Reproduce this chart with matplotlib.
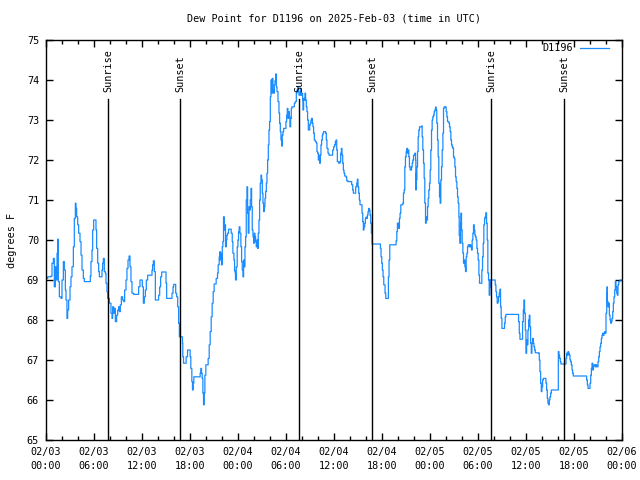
import pandas as pd
import matplotlib
matplotlib.use("Agg")
import matplotlib.pyplot as plt
import matplotlib.dates as mdates
from matplotlib.ticker import MultipleLocator

# dew point readings, hours after 00:00 UTC of each day
feb03_hours = [0.0, 0.21, 0.62, 0.75, 0.92, 1.04, 1.17, 1.25, 1.38, 1.46,
               1.54, 1.67, 1.88, 2.0, 2.17, 2.29, 2.42, 2.5, 2.62, 2.71,
               2.83, 3.0, 3.12, 3.25, 3.42, 3.54, 3.67, 3.75, 3.83, 3.96,
               4.08, 4.25, 4.38, 4.5, 4.67, 4.79, 5.42, 5.54, 5.62, 5.75,
               5.83, 5.96, 6.17, 6.25, 6.33, 6.46, 6.58, 6.67, 6.88, 7.0,
               7.08, 7.17, 7.29, 7.42, 7.5, 7.62, 7.71, 7.92, 8.12, 8.25,
               8.33, 8.46, 8.54, 8.67, 8.83, 8.96, 9.08, 9.17, 9.29, 9.42,
               9.58, 9.71, 9.83, 10.0, 10.12, 10.25, 10.38, 10.5, 10.62, 10.75,
               10.96, 11.46, 11.58, 11.75, 11.92, 12.04, 12.17, 12.29, 12.42, 12.54,
               12.71, 13.17, 13.25, 13.33, 13.42, 13.54, 13.67, 13.96, 14.08, 14.21,
               14.33, 14.46, 14.92, 15.0, 15.08, 15.67, 15.75, 15.88, 15.96, 16.12,
               16.21, 16.33, 16.46, 16.58, 16.67,
               17.06, 17.1, 17.19, 17.44, 17.52, 17.69, 17.94, 18.02, 18.1, 18.23,
               18.31, 18.4, 18.48, 19.19, 19.27, 19.36, 19.44, 19.52, 19.61, 19.69,
               19.77, 19.86, 19.98, 20.19, 20.27, 20.4, 20.52, 20.65, 20.77, 20.9,
               21.02, 21.19, 21.27, 21.44, 21.52, 21.65,
               21.74, 21.78, 21.86, 21.94, 22.03, 22.11, 22.19, 22.28, 22.36, 22.44,
               22.53, 22.61, 22.69, 22.82, 23.03, 23.15, 23.28, 23.36, 23.49, 23.57,
               23.65, 23.69, 23.78, 23.9, 23.99]
feb03_dew = [69.04, 69.08, 69.1, 69.42, 69.54, 68.83, 69.33, 69.0, 69.67, 70.02,
             68.96, 68.58, 68.54, 69.0, 69.46, 69.25, 68.75, 68.5, 68.04, 68.25,
             68.5, 68.83, 69.08, 69.33, 69.83, 70.54, 70.92, 70.79, 70.58, 70.38,
             70.17, 69.96, 69.62, 69.25, 69.04, 68.96, 68.96, 69.1, 69.46, 69.75,
             70.25, 70.5, 70.5, 70.25, 69.79, 69.42, 69.21, 69.08, 69.08, 69.25,
             69.42, 69.54, 69.21, 69.17, 68.92, 68.71, 68.54, 68.42, 68.17, 68.04,
             68.33, 68.17, 68.29, 67.96, 68.12, 68.25, 68.33, 68.21, 68.38, 68.58,
             68.5, 68.46, 68.75, 69.0, 69.29, 69.5, 69.6, 69.33, 68.96, 68.67,
             68.64, 68.64, 68.83, 69.0, 69.0, 68.83, 68.42, 68.58, 68.75, 69.0,
             69.12, 69.12, 69.25, 69.38, 69.48, 69.21, 68.5, 68.5, 68.62, 68.83,
             69.08, 69.2, 69.2, 68.92, 68.54, 68.54, 68.67, 68.83, 68.89, 68.89,
             68.67, 68.58, 68.33, 67.92, 67.58,
             67.42, 67.08, 66.92, 66.92, 67.08, 67.25, 67.25, 67.08, 66.79, 66.46,
             66.25, 66.42, 66.58, 66.58, 66.67, 66.79, 66.67, 66.54, 66.17, 65.88,
             66.17, 66.62, 66.88, 66.88, 67.04, 67.38, 67.71, 68.08, 68.42, 68.71,
             68.9, 68.9, 69.04, 69.17, 69.38, 69.58,
             69.71, 69.5, 69.67, 69.38, 69.83, 69.96, 70.58, 70.25, 70.38, 69.83,
             70.0, 70.12, 70.17, 70.27, 70.27, 70.17, 69.96, 69.67, 69.5, 69.23,
             69.17, 69.0, 69.33, 69.83, 70.0]

feb04_hours = [0.07, 0.15, 0.24, 0.36, 0.45, 0.53, 0.62, 0.7, 0.78, 0.87,
               0.95, 1.03, 1.12, 1.2, 1.28, 1.37, 1.45, 1.53, 1.62, 1.7,
               1.78, 1.87, 1.95, 2.04, 2.12, 2.2, 2.28, 2.37, 2.45, 2.53,
               2.62, 2.7, 2.78, 2.87, 2.95, 3.04, 3.12, 3.2, 3.28, 3.37,
               3.45, 3.54, 3.62, 3.7, 3.79, 3.87, 3.95, 4.04, 4.12, 4.2,
               4.28, 4.37, 4.45, 4.54, 4.62, 4.7, 4.79, 4.87, 5.0, 5.12,
               5.2, 5.29, 5.37, 5.45, 5.53, 5.62, 5.7, 5.87, 5.99, 6.08,
               6.16, 6.24, 6.33, 6.41, 6.49, 6.58, 6.66, 6.74, 6.95, 7.04,
               7.16, 7.29, 7.37, 7.45, 7.54, 7.62, 7.79, 7.91, 7.99, 8.08,
               8.12, 8.2, 8.29, 8.37, 8.45, 8.54, 8.62, 8.7, 8.79, 8.87,
               8.96, 9.04, 9.12, 9.2, 9.29, 9.37, 9.45, 9.54, 9.66, 9.79,
               9.87, 9.95, 10.04, 10.12, 10.2, 10.29, 10.37, 10.45, 10.54, 10.62,
               10.7, 10.87, 10.95, 11.04, 11.12, 11.25, 11.37, 11.7, 11.83, 11.95,
               12.08, 12.17, 12.25, 12.34, 12.42, 12.59, 12.75, 12.84, 12.92, 13.0,
               13.09, 13.17, 13.25, 13.34, 13.5, 13.59, 13.75, 14.09, 14.21, 14.34,
               14.42, 14.59, 14.71, 14.84, 14.92, 15.0, 15.09, 15.17, 15.25, 15.42,
               15.5, 15.59, 15.67, 15.75, 15.84, 15.92, 16.0, 16.09, 16.17, 16.25,
               16.34, 16.42, 16.5, 16.59, 16.67, 16.76, 17.72, 17.8, 17.88, 17.97,
               18.05, 18.13, 18.22, 18.3, 18.38, 18.47, 18.72, 18.8, 18.88, 18.97,
               19.05, 19.68, 19.76, 19.85, 19.93, 20.01, 20.1, 20.18, 20.26, 20.35,
               20.51, 20.6, 20.68, 20.77, 20.85, 20.93, 21.02, 21.1, 21.18, 21.27,
               21.35, 21.43, 21.52, 21.6, 21.69, 21.77, 21.85, 21.94, 22.02, 22.1,
               22.19, 22.23, 22.27, 22.31, 22.35, 22.44, 22.52, 22.6, 22.69, 22.85,
               22.94, 23.02, 23.1, 23.19, 23.27, 23.35, 23.44, 23.52, 23.6, 23.69,
               23.77, 23.85, 23.94]
feb04_dew = [70.21, 70.33, 70.17, 69.83, 69.46, 69.25, 69.08, 69.5, 69.33, 69.83,
             70.08, 71.0, 71.33, 70.67, 70.17, 70.83, 70.75, 71.0, 71.29, 70.83,
             70.25, 70.08, 69.92, 70.17, 70.08, 69.96, 69.83, 70.0, 69.79, 70.17,
             70.5, 71.0, 71.42, 71.62, 71.5, 71.17, 70.92, 70.71, 70.83, 71.04,
             71.21, 71.42, 71.67, 72.0, 72.38, 72.75, 72.96, 73.58, 74.0, 73.67,
             74.04, 73.75, 73.67, 73.88, 73.98, 74.15, 73.83, 73.71, 73.46, 73.17,
             72.92, 72.71, 72.5, 72.35, 72.62, 72.71, 72.79, 72.79, 72.96, 73.12,
             73.29, 73.04, 73.21, 73.08, 72.83, 73.04, 73.29, 73.33, 73.33, 73.42,
             73.46, 73.67, 73.75, 73.83, 73.71, 73.62, 73.79, 73.62, 73.67, 73.5,
             73.25, 73.54, 73.5, 73.67, 73.5, 73.33, 73.21, 73.0, 72.75, 72.75,
             72.88, 72.92, 73.0, 73.04, 72.92, 72.83, 72.67, 72.5, 72.46, 72.42,
             72.21, 72.17, 72.0, 72.12, 71.92, 72.12, 72.38, 72.5, 72.62, 72.67,
             72.71, 72.71, 72.67, 72.5, 72.29, 72.17, 72.12, 72.12, 72.25, 72.33,
             72.38, 72.46, 72.5, 72.25, 71.96, 71.92, 71.96, 72.17, 72.29, 72.12,
             71.92, 71.75, 71.67, 71.6, 71.57, 71.48, 71.46, 71.46, 71.38, 71.25,
             71.17, 71.17, 71.33, 71.42, 71.52, 71.33, 71.17, 71.0, 70.88, 70.88,
             70.67, 70.46, 70.25, 70.33, 70.42, 70.54, 70.57, 70.54, 70.62, 70.71,
             70.79, 70.75, 70.62, 70.42, 70.17, 69.9, 69.9, 69.79, 69.58, 69.42,
             69.25, 69.08, 68.88, 68.88, 68.67, 68.54, 68.54, 69.08, 69.5, 69.88,
             69.88, 69.88, 69.98, 70.21, 70.42, 70.42, 70.29, 70.54, 70.67, 70.88,
             70.88, 70.92, 71.17, 71.25, 71.83, 72.08, 72.21, 72.29, 72.17, 72.25,
             72.08, 71.83, 71.75, 71.75, 71.83, 71.92, 72.0, 72.12, 72.12, 72.17,
             72.0, 71.25, 71.67, 71.5, 71.83, 72.21, 72.58, 72.75, 72.83, 72.83,
             72.85, 72.58, 72.25, 71.92, 71.54, 70.92, 70.42, 70.58, 70.5, 70.83,
             71.04, 71.25, 71.42]

feb05_hours = [0.02, 0.1, 0.19, 0.27, 0.35, 0.44, 0.52, 0.6, 0.69, 0.77,
               0.85, 0.94, 1.02, 1.1, 1.19, 1.23, 1.27, 1.35, 1.44, 1.52,
               1.61, 1.69, 1.77, 1.94, 2.02, 2.11, 2.19, 2.36, 2.44, 2.52,
               2.61, 2.69, 2.77, 2.86, 2.94, 3.02, 3.11, 3.19, 3.27, 3.36,
               3.44, 3.52, 3.61, 3.65, 3.73, 3.82, 3.86, 3.94, 4.02, 4.11,
               4.19, 4.27, 4.36, 4.44, 4.52, 4.61, 4.69, 4.77, 4.94, 5.02,
               5.11, 5.19, 5.27, 5.36, 5.44, 5.52, 5.61, 5.69, 5.77, 5.86,
               5.94, 6.02, 6.11, 6.19, 6.4, 6.48, 6.57, 6.65, 6.73, 6.82,
               6.9, 6.98, 7.07, 7.15, 7.23, 7.32, 7.4, 7.49, 7.57, 7.65,
               8.07, 8.15, 8.24, 8.32, 8.4, 8.49, 8.57, 8.65, 8.74, 8.82,
               8.9, 8.99, 9.24, 9.32, 9.4, 9.49, 10.99, 11.07, 11.16, 11.24,
               11.49, 11.57, 11.66, 11.74, 11.82, 11.91, 11.99, 12.08, 12.16, 12.24,
               12.33, 12.41, 12.49, 12.58, 12.66, 12.74, 12.83, 12.91, 12.99, 13.08,
               13.16, 13.58, 13.66, 13.74, 13.83, 13.91, 13.99, 14.08, 14.16, 14.41,
               14.49, 14.58, 14.66, 14.74, 14.83, 14.91, 14.99, 15.08, 15.16, 15.99,
               16.04, 16.12, 16.2, 16.29, 16.37, 16.91, 17.0, 17.08, 17.16, 17.25,
               17.33, 17.41, 17.5, 17.58, 17.66, 17.75, 17.83, 17.91, 19.5, 19.58,
               19.67, 19.75, 19.92, 20.0, 20.09, 20.17, 20.25, 20.34, 20.42, 20.5,
               20.59, 20.67, 20.75, 20.84, 21.0, 21.09, 21.17, 21.25, 21.34, 21.42,
               21.5, 21.59, 21.67, 21.75, 21.84, 21.92, 22.0, 22.09, 22.13, 22.17,
               22.25, 22.34, 22.42, 22.5, 22.59, 22.67, 22.75, 22.84, 22.92, 23.0,
               23.09, 23.17, 23.25, 23.34, 23.42, 23.5, 23.59, 23.67, 23.75, 24.0]
feb05_dew = [71.75, 72.25, 72.75, 73.0, 73.08, 73.12, 73.21, 73.25, 73.32, 73.25,
             72.92, 72.5, 72.08, 71.42, 71.08, 71.38, 70.92, 71.5, 71.83, 72.25,
             72.67, 73.29, 73.33, 73.32, 73.21, 73.08, 72.96, 72.92, 72.83, 72.71,
             72.5, 72.38, 72.33, 72.29, 72.08, 72.04, 71.83, 71.58, 71.46, 71.29,
             71.08, 70.92, 70.58, 70.12, 69.92, 70.42, 70.67, 70.25, 69.92, 69.67,
             69.42, 69.5, 69.33, 69.21, 69.58, 69.67, 69.83, 69.88, 69.83, 69.88,
             69.83, 69.75, 70.0, 70.17, 70.38, 70.25, 70.12, 70.08, 70.0, 69.79,
             69.67, 69.5, 69.12, 68.92, 68.92, 69.25, 69.58, 69.92, 70.38, 70.54,
             70.58, 70.68, 70.42, 70.0, 69.17, 69.0, 68.62, 69.0, 68.83, 69.0,
             69.0, 68.88, 68.71, 68.58, 68.42, 68.46, 68.58, 68.67, 68.77, 68.33,
             68.04, 67.79, 67.79, 67.92, 68.08, 68.14, 68.14, 67.96, 67.67, 67.52,
             67.52, 67.96, 68.25, 68.5, 68.17, 67.75, 67.17, 67.5, 67.38, 67.75,
             68.0, 68.12, 67.83, 67.42, 67.17, 67.42, 67.54, 67.42, 67.33, 67.25,
             67.18, 67.17, 67.0, 66.71, 66.42, 66.21, 66.33, 66.5, 66.54, 66.54,
             66.42, 66.25, 66.04, 65.92, 65.88, 66.0, 66.08, 66.17, 66.25, 66.25,
             67.21, 67.12, 67.04, 66.96, 66.9, 66.9, 67.04, 67.17, 67.12, 67.21,
             67.17, 67.12, 67.0, 66.96, 66.88, 66.75, 66.67, 66.6, 66.6, 66.5,
             66.38, 66.29, 66.29, 66.42, 66.62, 66.79, 66.92, 66.75, 66.83, 66.88,
             66.88, 66.83, 66.88, 66.83, 66.96, 67.08, 67.21, 67.33, 67.42, 67.54,
             67.62, 67.67, 67.62, 67.67, 67.71, 67.67, 68.17, 68.67, 68.83, 68.46,
             68.33, 68.42, 68.12, 68.0, 67.92, 67.96, 68.04, 68.21, 68.42, 68.58,
             68.75, 68.96, 68.83, 68.67, 68.62, 68.88, 68.96, 68.96, 69.0, 69.0]

sunrise_times = ["2025-02-03 07:46", "2025-02-04 07:40", "2025-02-05 07:40"]
sunset_times = ["2025-02-03 16:47", "2025-02-04 16:47", "2025-02-05 16:48"]

FONT = "DejaVu Sans Mono"
FS = 7.3
LINE_COLOR = "#1a8cff"


def build_series():
    parts = []
    for day, hours, dew in [("2025-02-03", feb03_hours, feb03_dew),
                            ("2025-02-04", feb04_hours, feb04_dew),
                            ("2025-02-05", feb05_hours, feb05_dew)]:
        times = pd.Timestamp(day) + pd.to_timedelta(hours, unit="h")
        parts.append(pd.Series(dew, index=times))
    return pd.concat(parts)


def draw():
    plt.rcParams["font.family"] = [FONT, "DejaVu Sans"]
    data = build_series()
    start = pd.Timestamp("2025-02-03")
    end = start + pd.Timedelta(hours=72)

    fig = plt.figure(figsize=(6.4, 4.8), dpi=100)
    ax = fig.add_axes([46 / 640, 40 / 480, 576 / 640, 400 / 480])

    # readings come in 5 minute steps, so the trace is mostly stair shaped
    ax.plot(data.index, data.values, color=LINE_COLOR, lw=0.9,
            drawstyle="steps-post", label="D1196")

    for label, times in [("Sunrise", sunrise_times), ("Sunset", sunset_times)]:
        for t in pd.to_datetime(times):
            ax.plot([t, t], [65, 73.52], color="black", lw=1)
            ax.text(t, 73.7, label, rotation=90, ha="center", va="bottom",
                    fontsize=FS)

    ax.set_xlim(start, end)
    ax.set_ylim(65, 75)
    ax.xaxis.set_major_locator(mdates.HourLocator(byhour=[0, 6, 12, 18]))
    ax.xaxis.set_major_formatter(mdates.DateFormatter("%m/%d\n%H:%M"))
    ax.xaxis.set_minor_locator(mdates.HourLocator(byhour=range(0, 24, 2)))
    ax.yaxis.set_major_locator(MultipleLocator(1))
    ax.tick_params(which="both", direction="in", top=True, right=True,
                   width=1, labelsize=FS, pad=5)
    ax.tick_params(which="major", length=5)
    ax.tick_params(which="minor", length=3)
    for s in ax.spines.values():
        s.set_linewidth(1)

    ax.set_title("Dew Point for D1196 on 2025-Feb-03 (time in UTC)",
                 fontsize=FS, pad=13)
    ax.set_ylabel("degrees F", fontsize=FS)
    ax.yaxis.set_label_coords(-29 / 576, 0.5)

    ax.legend(loc="upper right", bbox_to_anchor=(1 - 9 / 576, 1 + 1 / 400),
              borderaxespad=0, frameon=False, markerfirst=False,
              handlelength=2.9, handletextpad=0.6, fontsize=FS)

    fig.canvas.draw()
    for lbl in ax.get_xticklabels():
        lbl.set_linespacing(1.5)

    fig.savefig("out.png", dpi=100)
    plt.close(fig)


draw()
